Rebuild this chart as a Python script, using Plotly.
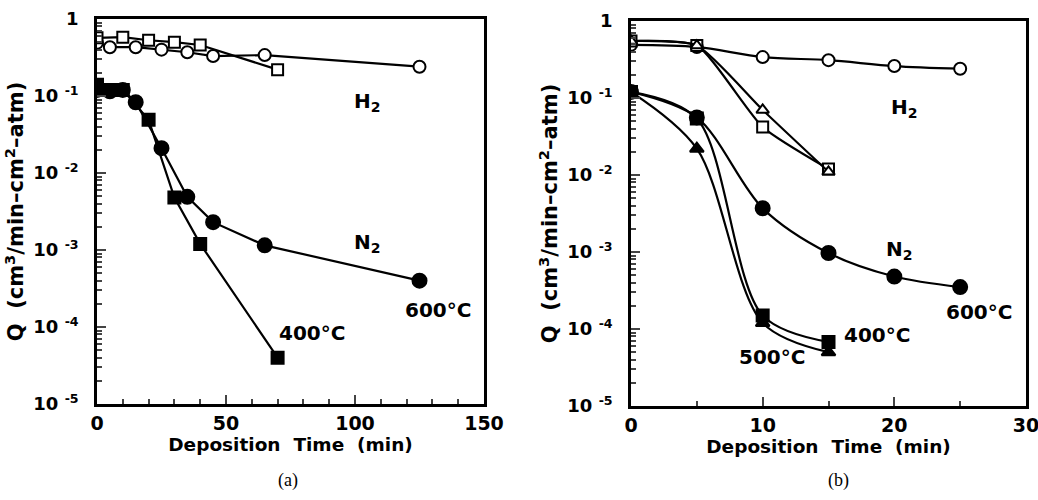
import plotly.graph_objects as go

# ---------- data: panel (a) ----------
a_h2_600_x = [0, 5, 15, 25, 35, 45, 65, 125]
a_h2_600_y = [0.49, 0.43, 0.43, 0.40, 0.37, 0.33, 0.34, 0.24]
a_h2_400_x = [0, 10, 20, 30, 40, 70]
a_h2_400_y = [0.57, 0.58, 0.53, 0.50, 0.46, 0.22]
a_n2_600_x = [0, 5, 10, 15, 25, 35, 45, 65, 125]
a_n2_600_y = [0.12, 0.115, 0.12, 0.083, 0.021, 0.0049, 0.0023, 0.00115, 0.0004]
a_n2_400_x = [0, 5, 10, 20, 30, 40, 70]
a_n2_400_y = [0.14, 0.12, 0.12, 0.049, 0.0048, 0.0012, 4e-5]

# ---------- data: panel (b) ----------
b_h2_600_x = [0, 5, 10, 15, 20, 25]
b_h2_600_y = [0.49, 0.46, 0.34, 0.31, 0.26, 0.24]
b_h2_400_x = [0, 5, 10, 15]
b_h2_400_y = [0.55, 0.48, 0.042, 0.012]
b_h2_500_x = [0, 5, 10, 15]
b_h2_500_y = [0.55, 0.48, 0.07, 0.011]
b_n2_600_x = [0, 5, 10, 15, 20, 25]
b_n2_600_y = [0.12, 0.056, 0.0037, 0.00097, 0.00048, 0.00035]
b_n2_400_x = [0, 5, 10, 15]
b_n2_400_y = [0.12, 0.054, 1.5e-4, 6.8e-5]
b_n2_500_x = [0, 5, 10, 15]
b_n2_500_y = [0.12, 0.022, 1.2e-4, 5e-5]

ytick_vals = [1, 1e-1, 1e-2, 1e-3, 1e-4, 1e-5]
ytick_text = ["1", "10 <sup>-1</sup>", "10 <sup>-2</sup>", "10 <sup>-3</sup>",
              "10 <sup>-4</sup>", "10 <sup>-5</sup>"]

FONT = "DejaVu Sans"
fig = go.Figure()

def add(x, y, sym, xa, ya, shape="linear", size=12, filled=True, smooth=0.9):
    fig.add_trace(go.Scatter(
        x=x, y=y, mode="lines+markers", xaxis=xa, yaxis=ya, showlegend=False,
        line=dict(color="black", width=2.2, shape=shape, smoothing=smooth),
        marker=dict(symbol=sym, size=size, color="black" if filled else "white",
                    line=dict(color="black", width=2))))

# panel a
add(a_h2_600_x, a_h2_600_y, "circle", "x", "y", size=12, filled=False)
add(a_h2_400_x, a_h2_400_y, "square", "x", "y", size=11, filled=False)
add(a_n2_600_x, a_n2_600_y, "circle", "x", "y", size=14)
add(a_n2_400_x, a_n2_400_y, "square", "x", "y", size=12)
# panel b
add(b_h2_600_x, b_h2_600_y, "circle", "x2", "y2", "spline", size=12, filled=False)
add(b_h2_400_x, b_h2_400_y, "square", "x2", "y2", "spline", size=11, filled=False, smooth=0.55)
add(b_h2_500_x, b_h2_500_y, "triangle-up", "x2", "y2", "spline", size=11, filled=False, smooth=0.55)
add(b_n2_600_x, b_n2_600_y, "circle", "x2", "y2", "spline", size=14)
add(b_n2_400_x, b_n2_400_y, "square", "x2", "y2", "spline", size=12)
add(b_n2_500_x, b_n2_500_y, "triangle-up", "x2", "y2", "spline", size=12)

minor_y = [m * 10 ** e for e in range(-5, 0) for m in range(2, 10)]
tickfont = dict(family=FONT, size=19, color="black", weight="bold")

def xaxis(dom, rng, dt, mdt):
    return dict(domain=dom, range=rng, dtick=dt, tick0=0, ticks="inside", ticklen=9,
                tickwidth=2, showline=True, linewidth=2.5, linecolor="black",
                mirror=True, showgrid=False, zeroline=False, tickfont=tickfont,
                ticklabelstandoff=0, automargin=False, ticklabeloverflow="allow",
                minor=dict(dtick=mdt, tick0=0, ticks="inside", ticklen=5, tickwidth=1.5,
                           showgrid=False),
                title=dict(text="Deposition  Time  (min)",
                           font=dict(family=FONT, size=18.5, color="black", weight="bold"),
                           standoff=2))

def yaxis(dom, anchor):
    return dict(domain=dom, type="log", range=[-5, 0], anchor=anchor,
                tickmode="array", tickvals=ytick_vals, ticktext=ytick_text,
                ticks="inside", ticklen=9, tickwidth=2, showline=True, linewidth=2.5,
                linecolor="black", mirror=True, showgrid=False, zeroline=False,
                tickfont=dict(family=FONT, size=18, color="black", weight="bold"),
                ticklabelstandoff=12, automargin=False, ticklabeloverflow="allow",
                minor=dict(tickmode="array", tickvals=minor_y, ticks="inside",
                           ticklen=5, tickwidth=1.5, showgrid=False),
                title=dict(text="Q  (cm<sup>3</sup>/min\u2013cm<sup>2</sup>\u2013atm)",
                           font=dict(family=FONT, size=21, color="black", weight="bold"),
                           standoff=4))

fig.update_layout(
    width=1038, height=500, paper_bgcolor="white", plot_bgcolor="white",
    margin=dict(l=0, r=0, t=0, b=0, autoexpand=False),
    xaxis=xaxis([97 / 1038, 484 / 1038], [0, 150], 50, 10) | dict(anchor="y"),
    yaxis=yaxis([96 / 500, 481 / 500], "x"),
    xaxis2=xaxis([631 / 1038, 1026 / 1038], [0, 30], 10, 5) | dict(anchor="y2"),
    yaxis2=yaxis([94 / 500, 479 / 500], "x2"),
)

lab = dict(family=FONT, size=20, color="black", weight="bold")
def ann(x, y, t, xr, yr):
    fig.add_annotation(x=x, y=y, text=t, xref=xr, yref=yr, showarrow=False, font=lab)

ann(105, -1.08, "H<sub>2</sub>", "x", "y")
ann(105, -2.91, "N<sub>2</sub>", "x", "y")
ann(132, -3.78, "600°C", "x", "y")
ann(83.5, -4.08, "400°C", "x", "y")
ann(20.8, -1.13, "H<sub>2</sub>", "x2", "y2")
ann(20.4, -2.97, "N<sub>2</sub>", "x2", "y2")
ann(26.4, -3.78, "600°C", "x2", "y2")
ann(18.7, -4.08, "400°C", "x2", "y2")
ann(10.7, -4.36, "500°C", "x2", "y2")
for px, t in [(288, "(a)"), (838, "(b)")]:
    fig.add_annotation(x=px / 1038, y=20 / 500, xref="paper", yref="paper",
                       xanchor="center", yanchor="middle", showarrow=False, text=t,
                       font=dict(family="Liberation Serif", size=18, color="black"))

fig.write_html("out.html", config={"displayModeBar": False},
               post_script="document.body.style.margin='0';")
